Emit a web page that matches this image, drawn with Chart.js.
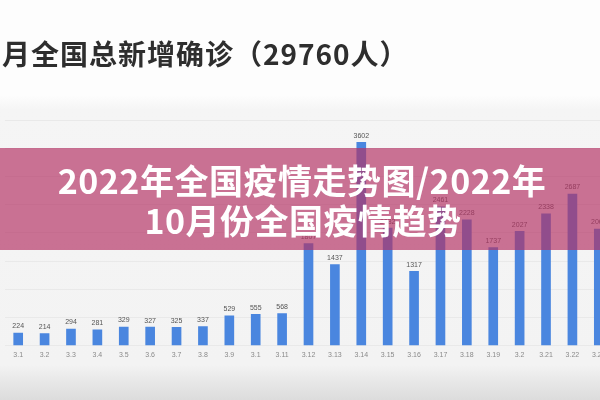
<!DOCTYPE html>
<html>
<head>
<meta charset="utf-8">
<script src="https://cdn.jsdelivr.net/npm/chart.js@4"></script>
<style>
  html, body {
    margin: 0;
    padding: 0;
    width: 600px;
    height: 400px;
    overflow: hidden;
  }
  body {
    position: relative;
    background: linear-gradient(to bottom, #fdfdfd 0px, #fdfdfd 95px, #f5f5f5 110px, #f3f3f3 365px, #e7e7e7 382px, #dcdcdc 400px);
    font-family: "Noto Sans CJK SC", "Noto Sans", sans-serif;
  }
  #chartBox {
    position: absolute;
    left: 0;
    top: 0;
    width: 616px;
    height: 400px;
  }
  #title {
    position: absolute;
    left: 2px;
    top: 35px;
    font-size: 28px;
    font-weight: bold;
    color: #2e2e2e;
    line-height: 36px;
    letter-spacing: 1px;
    white-space: nowrap;
  }
  #banner {
    position: absolute;
    left: 0;
    top: 148px;
    width: 600px;
    height: 102px;
    background: rgba(180, 50, 100, 0.68);
  }
  #banner div {
    position: absolute;
    left: 0;
    width: 600px;
    text-align: center;
    color: #fff;
    font-size: 34px;
    font-weight: bold;
    line-height: 40px;
    letter-spacing: 0.5px;
    white-space: nowrap;
  }
</style>
</head>
<body>
<div id="chartBox"><canvas id="casesChart"></canvas></div>
<div id="title">月全国总新增确诊（29760人）</div>
<div id="banner">
  <div style="top: 12px; left: 2px;">2022年全国疫情走势图/2022年</div>
  <div style="top: 52px; left: 3px;">10月份全国疫情趋势</div>
</div>
<script>
const days = ['3.1', '3.2', '3.3', '3.4', '3.5', '3.6', '3.7', '3.8', '3.9', '3.1', '3.11', '3.12',
              '3.13', '3.14', '3.15', '3.16', '3.17', '3.18', '3.19', '3.2', '3.21', '3.22', '3.23'];
const cases = [224, 214, 294, 281, 329, 327, 325, 337, 529, 555, 568, 1807,
               1437, 3602, 2082, 1317, 2461, 2228, 1737, 2027, 2338, 2687, 2067];

// numbers above each bar
const valueLabels = {
    id: 'valueLabels',
    afterDatasetsDraw(chart) {
        const ctx = chart.ctx;
        const meta = chart.getDatasetMeta(0);
        ctx.save();
        ctx.font = '7px "Liberation Sans", sans-serif';
        ctx.fillStyle = '#555';
        ctx.textAlign = 'center';
        ctx.textBaseline = 'bottom';
        meta.data.forEach((bar, i) => {
            ctx.fillText(cases[i], bar.x, bar.y - 3);
        });
        ctx.restore();
    }
};

const ctx = document.getElementById('casesChart').getContext('2d');
new Chart(ctx, {
    type: 'bar',
    data: {
        labels: days,
        datasets: [{
            data: cases,
            backgroundColor: '#4a86df',
            barThickness: 9
        }]
    },
    options: {
        responsive: true,
        maintainAspectRatio: false,
        animation: false,
        layout: {
            padding: { top: 120, left: 5, right: 4, bottom: 36 }
        },
        plugins: {
            legend: { display: false },
            tooltip: { enabled: false }
        },
        scales: {
            x: {
                grid: { display: false, drawTicks: false },
                border: { display: false },
                ticks: {
                    autoSkip: false,
                    maxRotation: 0,
                    padding: 5,
                    color: '#8a8a8a',
                    font: { size: 7, family: '"Liberation Sans", sans-serif' }
                }
            },
            y: {
                min: 0,
                max: 4000,
                border: { display: false },
                grid: { color: '#e9e9e9', drawTicks: false },
                ticks: { display: false, stepSize: 500 }
            }
        }
    },
    plugins: [valueLabels]
});
</script>
</body>
</html>
